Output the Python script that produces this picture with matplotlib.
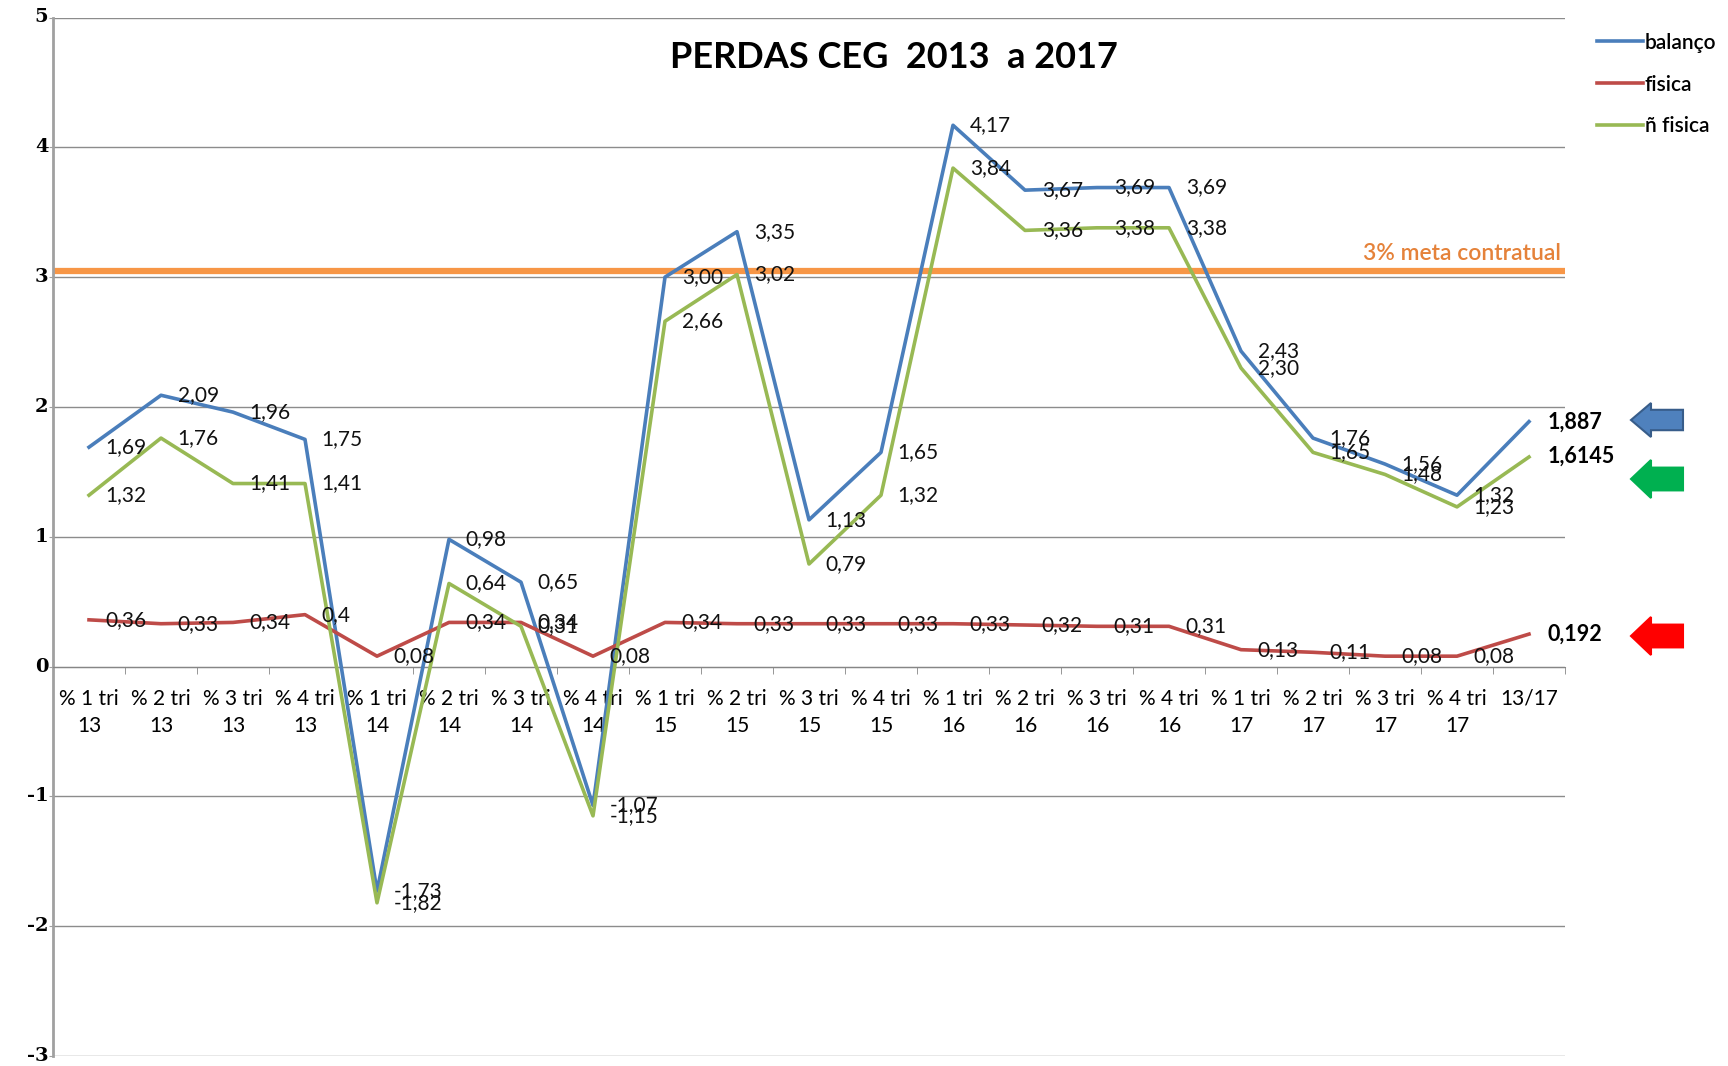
import numpy as np
import matplotlib.pyplot as plt
import matplotlib.transforms as mtransforms
from matplotlib.lines import Line2D
from matplotlib.patches import Polygon

plt.rcParams['font.family'] = ['Lato', 'DejaVu Sans']
plt.rcParams['axes.unicode_minus'] = False

categorias = ["% 1 tri\n13", "% 2 tri\n13", "% 3 tri\n13", "% 4 tri\n13",
              "% 1 tri\n14", "% 2 tri\n14", "% 3 tri\n14", "% 4 tri\n14",
              "% 1 tri\n15", "% 2 tri\n15", "% 3 tri\n15", "% 4 tri\n15",
              "% 1 tri\n16", "% 2 tri\n16", "% 3 tri\n16", "% 4 tri\n16",
              "% 1 tri\n17", "% 2 tri\n17", "% 3 tri\n17", "% 4 tri\n17",
              "13/17"]

balanco = [1.69, 2.09, 1.96, 1.75, -1.73, 0.98, 0.65, -1.07, 3.00, 3.35, 1.13,
           1.65, 4.17, 3.67, 3.69, 3.69, 2.43, 1.76, 1.56, 1.32, 1.887]
fisica = [0.36, 0.33, 0.34, 0.4, 0.08, 0.34, 0.34, 0.08, 0.34, 0.33, 0.33,
          0.33, 0.33, 0.32, 0.31, 0.31, 0.13, 0.11, 0.08, 0.08, 0.25]
n_fisica = [1.32, 1.76, 1.41, 1.41, -1.82, 0.64, 0.31, -1.15, 2.66, 3.02, 0.79,
            1.32, 3.84, 3.36, 3.38, 3.38, 2.30, 1.65, 1.48, 1.23, 1.6145]

yticks = list(range(-3, 6))
meta = 3.05
totais = ["1,887", "1,6145", "0,192"]

cor_azul = "#4A7EBB"
cor_verm = "#BE4B48"
cor_verde = "#98B954"

W, H = 1728, 1066
fig = plt.figure(figsize=(W / 100, H / 100), dpi=100)
ax = fig.add_axes([53 / W, 1 - 1056 / H, 1512 / W, 1038.5 / H])

x = np.arange(len(categorias))

ax.set_ylim(-3, 5)
ax.set_xlim(-0.5, len(categorias) - 0.5)
ax.set_yticks(yticks)
ax.set_yticklabels([])
trans_y = mtransforms.blended_transform_factory(ax.transAxes, ax.transData)
for v in yticks:
    ax.text(-0.003, v, str(v), transform=trans_y, ha="right", va="center",
            fontfamily="DejaVu Serif", fontweight="bold", fontsize=14)
ax.yaxis.grid(True, color="#8c8c8c", lw=1)
ax.set_axisbelow(True)

ax.axhline(meta, color="#F79646", lw=4.5, zorder=2)
ax.text(len(categorias) - 0.55, 3.18, "3% meta contratual", color="#E5823A",
        ha="right", va="center", fontsize=16.5, fontweight="semibold")

series = [(balanco, cor_azul, "balanço"),
          (fisica, cor_verm, "fisica"),
          (n_fisica, cor_verde, "ñ fisica")]
for vals, cor, nome in series:
    ax.plot(x, vals, color=cor, lw=2.6, label=nome, zorder=3)
    for xi, v in zip(x[:-1], vals[:-1]):
        txt = ("%.2f" % v).replace(".", ",")
        if v == 0.4:
            txt = "0,4"
        ax.annotate(txt, (xi, v), xytext=(12, 0), textcoords="offset points",
                    ha="left", va="center", fontsize=15, color="#111111",
                    zorder=4)

# eixo de categorias cruzando em zero
for s in ["top", "right"]:
    ax.spines[s].set_visible(False)
ax.spines["bottom"].set_position(("data", 0))
ax.spines["bottom"].set_color("#868686")
ax.spines["left"].set_color("#a0a0a0")
ax.spines["left"].set_linewidth(2)
ax.set_xticks(x)
ax.set_xticklabels(categorias, fontsize=15, linespacing=1.45)
ax.set_xticks(np.arange(-0.5, len(categorias)), minor=True)
ax.tick_params(axis="x", which="major", length=0, pad=16)
ax.tick_params(axis="x", which="minor", length=5, color="#868686")
ax.tick_params(axis="y", length=3, color="#a0a0a0", pad=1)

fig.text(894 / W, 1 - 57 / H, "PERDAS CEG  2013  a 2017", ha="center",
         va="center", fontsize=26, fontweight="bold")

handles = [Line2D([], [], color=c, lw=2.6) for _, c, _ in series]
fig.legend(handles, [n for _, _, n in series], loc="upper left",
           bbox_to_anchor=(1578 / W, 1 - 14 / H), frameon=False,
           prop={"weight": "semibold", "size": 15},
           handlelength=2.2, handletextpad=0.1, labelspacing=1.05)

# totais e setas
ys = [422, 456, 634]
for t, y in zip(totais, ys):
    fig.text(1548 / W, 1 - y / H, t, ha="left", va="center", fontsize=15.5,
             fontweight="bold")

setas = [(420, 34, "#4F81BD", "#385D8A"), (479, 38, "#00B050", "#00B050"),
         (636, 38, "#FF0000", "#FF0000")]
for yc, h, cor, borda in setas:
    x0, x1 = 1631, 1683
    hl = 20
    bw = h * 0.6
    pts = [(x0, yc), (x0 + hl, yc - h / 2), (x0 + hl, yc - bw / 2),
           (x1, yc - bw / 2), (x1, yc + bw / 2), (x0 + hl, yc + bw / 2),
           (x0 + hl, yc + h / 2)]
    pts = [(px / 100, (H - py) / 100) for px, py in pts]
    fig.patches.append(Polygon(pts, closed=True, facecolor=cor, edgecolor=borda,
                               lw=1.5, transform=fig.dpi_scale_trans))

fig.savefig("out.png", dpi=100)
